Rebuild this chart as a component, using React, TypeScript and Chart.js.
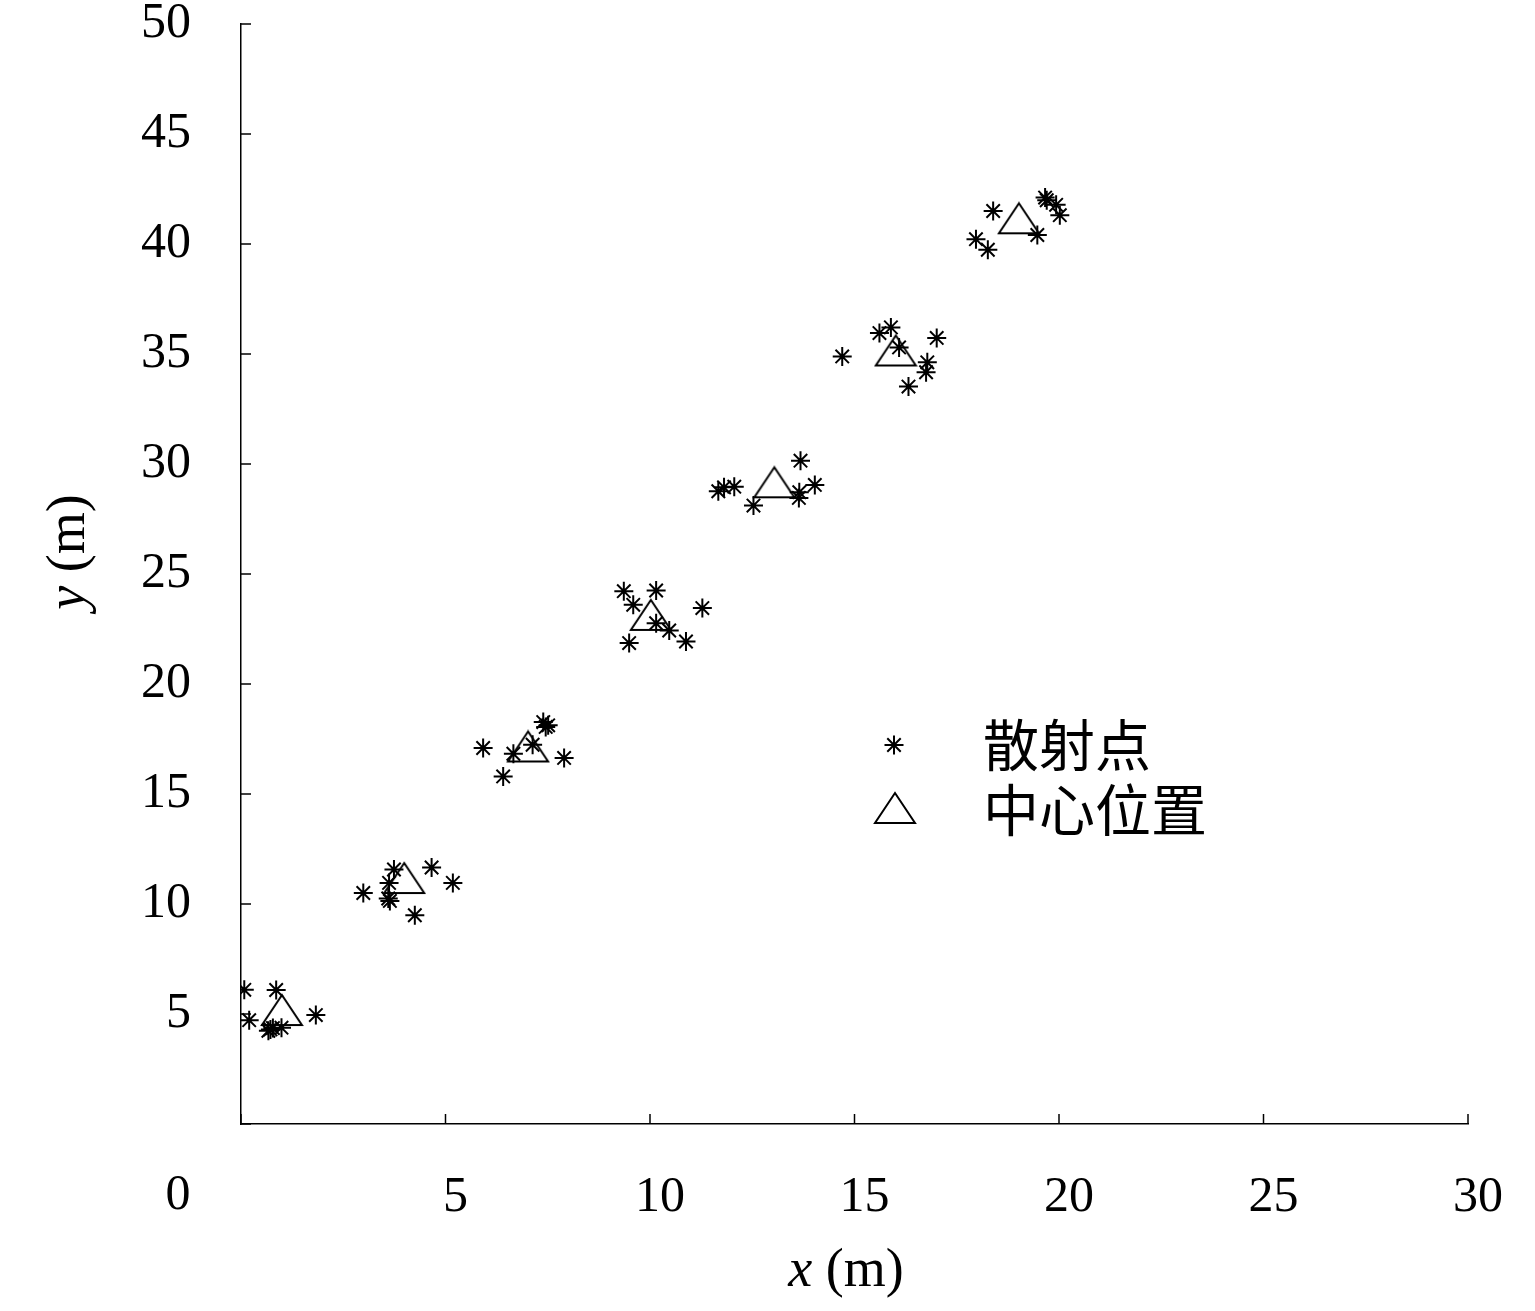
import React, { useEffect, useRef } from "react";
import { Chart, registerables } from "chart.js";

Chart.register(...registerables);

const scatterX = [
  0.08, 0.86, 0.2, 0.67, 0.78, 0.99, 1.83, 0.72,
  2.99, 3.74, 3.62, 3.6, 3.64, 4.66, 5.18, 4.25,
  5.92, 6.41, 6.66, 7.13, 7.39, 7.51, 7.45, 7.9,
  9.36, 10.15, 9.59, 11.28, 10.15, 10.47, 10.88, 9.49,
  11.67, 11.81, 12.06, 12.53, 13.68, 13.65, 13.64, 14.03,
  14.7, 15.61, 15.89, 16.09, 17.01, 16.78, 16.75, 16.32,
  18.39, 17.97, 18.26, 19.47, 19.66, 19.7, 19.93, 20.02,
];
const scatterY = [
  6.1, 6.09, 4.72, 4.24, 4.36, 4.38, 4.95, 4.3,
  10.5, 11.57, 10.96, 10.25, 10.14, 11.66, 10.96, 9.49,
  17.09, 15.8, 16.83, 17.24, 18.27, 18.12, 18.05, 16.64,
  24.22, 24.25, 23.6, 23.45, 22.76, 22.43, 21.93, 21.86,
  28.76, 28.94, 28.97, 28.11, 30.15, 28.72, 28.46, 29.05,
  34.89, 35.95, 36.21, 35.3, 35.73, 34.62, 34.17, 33.52,
  41.5, 40.22, 39.74, 40.41, 42.11, 41.99, 41.78, 41.31,
];
const centerX = [1.0, 3.99, 7.02, 10.02, 13.04, 16.01, 19.02];
const centerY = [5.18, 11.18, 17.16, 23.14, 29.17, 35.16, 41.17];

const xTicks = [0, 5, 10, 15, 20, 25, 30];
const yTicks = [0, 5, 10, 15, 20, 25, 30, 35, 40, 45, 50];
const legendLabels = ["散射点", "中心位置"];
const xTitle = ["x", " (m)"];
const yTitle = ["y", " (m)"];

const SERIF = '"Liberation Serif", "DejaVu Serif", serif';
const CJK = '"Noto Sans CJK SC", sans-serif';

function makeTriangle(): HTMLCanvasElement {
  const c = document.createElement("canvas");
  c.width = 44;
  c.height = 34;
  const g = c.getContext("2d")!;
  g.strokeStyle = "#000";
  g.lineWidth = 2;
  g.beginPath();
  g.moveTo(22, 2);
  g.lineTo(42, 32);
  g.lineTo(2, 32);
  g.closePath();
  g.stroke();
  return c;
}

export default function App() {
  const ref = useRef<HTMLCanvasElement>(null);

  useEffect(() => {
    const tri = makeTriangle();
    const overlay = {
      id: "overlay",
      afterDraw(chart: any) {
        const ctx = chart.ctx;
        const xs = chart.scales.x;
        const ys = chart.scales.y;
        const area = chart.chartArea;
        ctx.save();
        ctx.strokeStyle = "#000";
        ctx.lineWidth = 1.5;
        // inward tick marks
        xTicks.forEach((v) => {
          const px = xs.getPixelForValue(v);
          ctx.beginPath();
          ctx.moveTo(px, area.bottom);
          ctx.lineTo(px, area.bottom - 10);
          ctx.stroke();
        });
        yTicks.forEach((v) => {
          const py = ys.getPixelForValue(v);
          ctx.beginPath();
          ctx.moveTo(area.left, py);
          ctx.lineTo(area.left + 10, py);
          ctx.stroke();
        });
        // origin label
        ctx.fillStyle = "#000";
        ctx.font = `50px ${SERIF}`;
        ctx.textAlign = "center";
        ctx.textBaseline = "middle";
        ctx.fillText("0", 178, 1196);
        // x title
        ctx.textAlign = "left";
        ctx.font = `italic 54px ${SERIF}`;
        const wx1 = ctx.measureText(xTitle[0]).width;
        ctx.font = `54px ${SERIF}`;
        const wx2 = ctx.measureText(xTitle[1]).width;
        const sx = 846 - (wx1 + wx2) / 2;
        ctx.font = `italic 54px ${SERIF}`;
        ctx.fillText(xTitle[0], sx, 1272);
        ctx.font = `54px ${SERIF}`;
        ctx.fillText(xTitle[1], sx + wx1, 1272);
        // y title
        ctx.save();
        ctx.translate(70, 552);
        ctx.rotate(-Math.PI / 2);
        ctx.font = `italic 54px ${SERIF}`;
        const wy1 = ctx.measureText(yTitle[0]).width;
        ctx.font = `54px ${SERIF}`;
        const wy2 = ctx.measureText(yTitle[1]).width;
        const sy = -(wy1 + wy2) / 2;
        ctx.font = `italic 54px ${SERIF}`;
        ctx.fillText(yTitle[0], sy, 0);
        ctx.font = `54px ${SERIF}`;
        ctx.fillText(yTitle[1], sy + wy1, 0);
        ctx.restore();
        // legend
        const lx = 894;
        const ly1 = 745;
        const ly2 = 808;
        const r = 9.5;
        ctx.lineWidth = 2;
        ctx.beginPath();
        for (let i = 0; i < 4; i++) {
          const a = (i * Math.PI) / 4;
          ctx.moveTo(lx - Math.cos(a) * r, ly1 - Math.sin(a) * r);
          ctx.lineTo(lx + Math.cos(a) * r, ly1 + Math.sin(a) * r);
        }
        ctx.stroke();
        ctx.drawImage(tri, lx + 1 - tri.width / 2, ly2 - tri.height / 2);
        ctx.font = `56px ${CJK}`;
        ctx.textAlign = "left";
        ctx.fillText(legendLabels[0], 983, ly1);
        ctx.fillText(legendLabels[1], 983, ly2 + 2);
        ctx.restore();
      },
    };

    const chart = new Chart(ref.current!, {
      type: "scatter",
      data: {
        datasets: [
          {
            label: legendLabels[0],
            data: scatterX.map((x, i) => ({ x, y: scatterY[i] })),
            pointStyle: "star",
            pointRadius: 9.5,
            borderWidth: 2,
            borderColor: "#000",
            backgroundColor: "#000",
          },
          {
            label: legendLabels[1],
            data: centerX.map((x, i) => ({ x, y: centerY[i] })),
            pointStyle: tri as any,
            pointRadius: 20,
            borderColor: "#000",
            backgroundColor: "#000",
          },
        ],
      },
      options: {
        responsive: false,
        animation: false,
        layout: { padding: { left: 0, right: 67, top: 24, bottom: 0 } },
        plugins: {
          legend: { display: false },
          tooltip: { enabled: false },
        },
        scales: {
          x: {
            type: "linear",
            min: 0,
            max: 30,
            afterFit: (s: any) => {
              s.height = 1311 - 1124;
              s.paddingLeft = 0;
              s.paddingRight = 0;
            },
            afterBuildTicks: (s: any) => {
              s.ticks = xTicks.map((v) => ({ value: v }));
            },
            grid: { display: false, drawTicks: false },
            border: { display: true, color: "#000", width: 1.5 },
            ticks: {
              color: "#000",
              font: { family: SERIF, size: 50 },
              padding: 44,
              labelOffset: 10,
              maxRotation: 0,
              autoSkip: false,
              callback: (v: any) => (v === 0 ? "" : String(v)),
            },
          },
          y: {
            type: "linear",
            min: 0,
            max: 50,
            afterFit: (s: any) => {
              s.width = 241;
              s.paddingTop = 0;
              s.paddingBottom = 0;
            },
            afterBuildTicks: (s: any) => {
              s.ticks = yTicks.map((v) => ({ value: v }));
            },
            grid: { display: false, drawTicks: false },
            border: { display: true, color: "#000", width: 1.5 },
            ticks: {
              color: "#000",
              font: { family: SERIF, size: 50 },
              padding: 50,
              autoSkip: false,
              callback: (v: any) => (v === 0 ? "" : String(v)),
            },
          },
        },
      },
      plugins: [overlay],
    });
    return () => chart.destroy();
  }, []);

  return (
    <div style={{ position: "absolute", left: 0, top: 0, width: 1535, height: 1311, background: "#fff" }}>
      <canvas ref={ref} width={1535} height={1311} style={{ width: 1535, height: 1311, display: "block" }} />
    </div>
  );
}
